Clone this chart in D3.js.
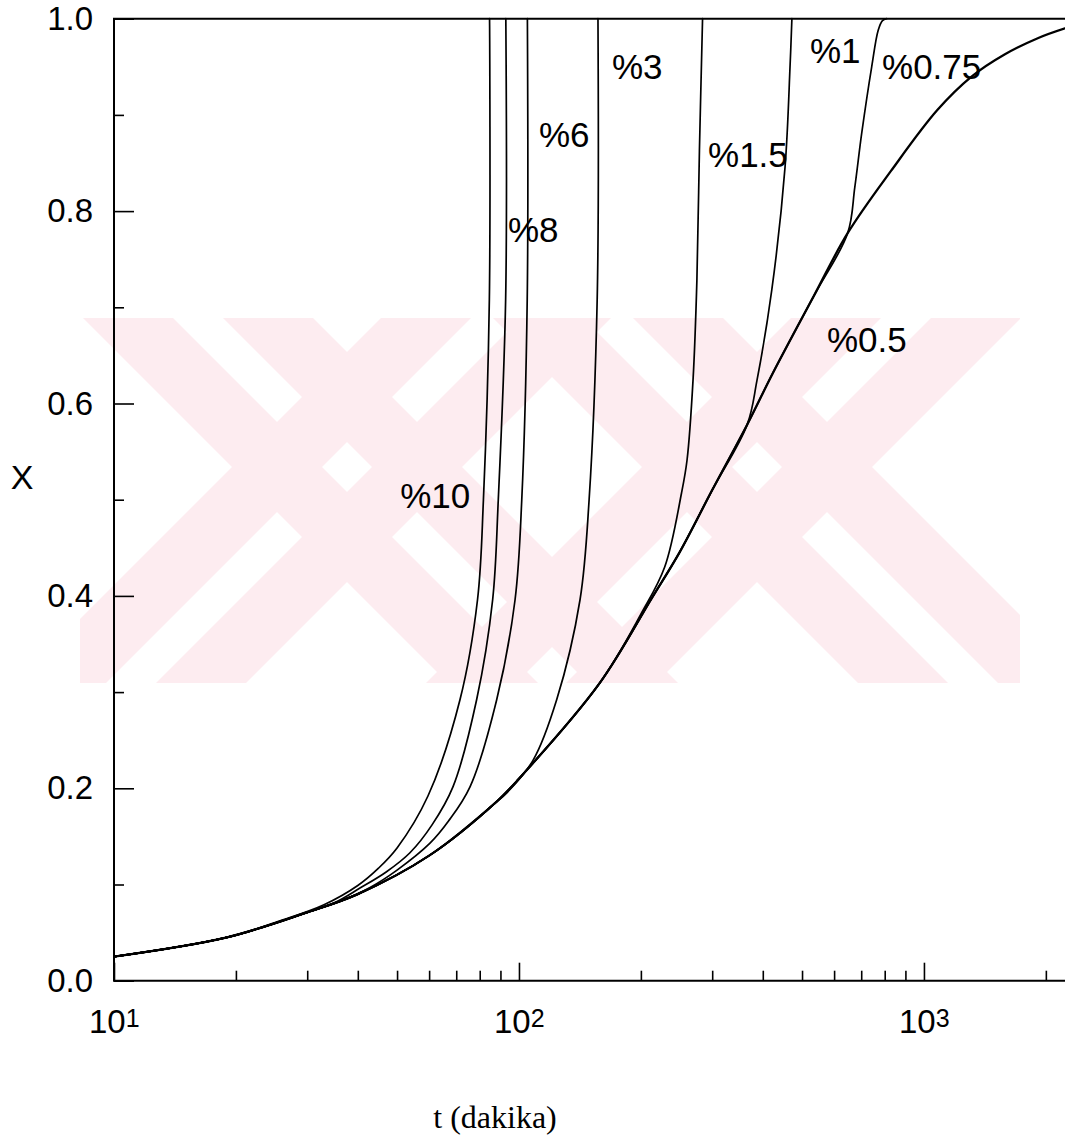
<!DOCTYPE html>
<html>
<head>
<meta charset="utf-8">
<script src="https://cdn.jsdelivr.net/npm/d3@7"></script>
<style>
  body { margin: 0; background: #fff; }
  svg { display: block; }
</style>
</head>
<body>
<svg id="chart" width="1065" height="1142"></svg>
<script>
// ---- axis ticks ----
const xMajorTicks = [10, 100, 1000];
const xMajorExponents = ["1", "2", "3"];
const xMinorTicks = [20, 30, 40, 50, 60, 70, 80, 90, 200, 300, 400, 500, 600, 700, 800, 900, 2000];
const yMajorTicks = [0, 0.2, 0.4, 0.6, 0.8, 1.0];
const yTickLabels = ["0.0", "0.2", "0.4", "0.6", "0.8", "1.0"];
const yMinorTicks = [0.1, 0.3, 0.5, 0.7, 0.9];

// ---- %0.5 curve (all other curves start out along it) ----
const t05 = [10, 19, 30, 40, 60, 88, 100, 158, 213, 249, 300, 366, 424, 535, 648, 830, 1079, 1313, 1585, 1916, 2230];
const x05 = [0.025, 0.045, 0.071, 0.09, 0.13, 0.186, 0.21, 0.309, 0.398, 0.445, 0.51, 0.578, 0.632, 0.712, 0.777, 0.842, 0.905, 0.94, 0.963, 0.98, 0.99];

// ---- branches that leave the %0.5 curve and run up to X = 1 ----
const t10 = [26, 33, 40, 45, 50, 59.6, 71.5, 79, 81.7, 84.5, 84.6];
const x10 = [0.063, 0.079, 0.099, 0.117, 0.138, 0.192, 0.292, 0.396, 0.5, 0.708, 1.0];

const t8 = [29, 35, 40.4, 47, 53.8, 61, 68.7, 78.6, 86.1, 88.9, 92.7, 92.8];
const x8 = [0.069, 0.081, 0.096, 0.113, 0.133, 0.162, 0.2015, 0.292, 0.396, 0.5, 0.708, 1.0];

const t6 = [36, 42.9, 50, 60.3, 67, 75.7, 88.1, 97.8, 101.6, 104.8, 104.9];
const x6 = [0.0824, 0.097, 0.115, 0.143, 0.166, 0.2015, 0.292, 0.396, 0.5, 0.708, 1.0];

const t3 = [88, 93.2, 108.3, 123.9, 141.5, 149, 156, 156.7];
const x3 = [0.186, 0.195, 0.229, 0.292, 0.396, 0.5, 0.708, 1.0];

const t15 = [200, 229, 252, 260, 269, 275, 279, 284];
const x15 = [0.381, 0.43, 0.507, 0.541, 0.624, 0.728, 0.863, 1.0];

const t1 = [366, 387, 421, 454, 467, 472];
const x1 = [0.578, 0.624, 0.718, 0.846, 0.95, 1.0];

const t075 = [648, 675, 702, 743, 771, 790, 809];
const x075 = [0.777, 0.825, 0.881, 0.95, 0.988, 0.998, 1.0];

// ---- curve labels, anchored in data coordinates (left end, baseline) ----
const labelTexts = ["%10", "%8", "%6", "%3", "%1.5", "%1", "%0.75", "%0.5"];
const labelT = [50.9, 93.9, 112, 169.7, 293, 523, 788, 576];
const labelX = [0.491, 0.768, 0.867, 0.9375, 0.846, 0.954, 0.9375, 0.6535];

// ---- layout ----
const W = 1065, H = 1142;
const plotL = 114, plotR = 1065, plotT = 18.7, plotB = 980.7;
const SANS = "'Liberation Sans', Arial, sans-serif";
const SERIF = "'Liberation Serif', 'Times New Roman', serif";

const svg = d3.select("#chart");
svg.append("rect").attr("width", W).attr("height", H).attr("fill", "#fff");

const x = d3.scaleLog().domain([10, 2230]).range([plotL, plotR]);
const y = d3.scaleLinear().domain([0, 1]).range([plotB, plotT]);

// faint emblem behind the plot: two crosses, each arm a pair of stripes
const defs = svg.append("defs");
defs.append("clipPath").attr("id", "emblemClip")
  .append("rect").attr("x", 80).attr("y", 318).attr("width", 940).attr("height", 365);
defs.append("clipPath").attr("id", "plotClip")
  .append("rect").attr("x", plotL).attr("y", plotT - 2).attr("width", plotR - plotL + 2).attr("height", plotB - plotT + 4);

const emblem = svg.append("g").attr("clip-path", "url(#emblemClip)").attr("fill", "#fdecf0");
const ey0 = 318, ey1 = 683;
const stripes = [[-115, -25], [25, 115]];
function armPolygon(cx, cy, dir, o1, o2) {
  const xa = cx + dir * (ey0 - cy), xb = cx + dir * (ey1 - cy);
  return [[xa + o1, ey0], [xa + o2, ey0], [xb + o2, ey1], [xb + o1, ey1]];
}
[[347, 467], [757, 467]].forEach(([cx, cy]) => {
  [1, -1].forEach(dir => {
    stripes.forEach(([o1, o2]) => {
      emblem.append("polygon").attr("points", armPolygon(cx, cy, dir, o1, o2).map(p => p.join(",")).join(" "));
    });
  });
});

// ---- ticks (pointing into the plot) ----
function styleAxis(g) {
  g.select(".domain").remove();
  g.selectAll(".tick line").attr("stroke", "#000").attr("stroke-width", 1.6);
}

svg.append("g").attr("transform", `translate(${plotL},0)`)
  .call(d3.axisLeft(y).tickValues(yMajorTicks).tickSize(-20).tickSizeOuter(0).tickPadding(21)
    .tickFormat((d, i) => yTickLabels[i]))
  .call(styleAxis)
  .call(g => g.selectAll(".tick text").style("font-size", "33px").style("font-family", SANS).attr("fill", "#000"));

svg.append("g").attr("transform", `translate(${plotL},0)`)
  .call(d3.axisLeft(y).tickValues(yMinorTicks).tickSize(-10).tickSizeOuter(0).tickFormat(""))
  .call(styleAxis);

svg.append("g").attr("transform", `translate(0,${plotB})`)
  .call(d3.axisBottom(x).tickValues(xMajorTicks).tickSize(-18).tickSizeOuter(0).tickFormat(""))
  .call(styleAxis);

svg.append("g").attr("transform", `translate(0,${plotB})`)
  .call(d3.axisBottom(x).tickValues(xMinorTicks).tickSize(-10).tickSizeOuter(0).tickFormat(""))
  .call(styleAxis);

// decade labels 10^n
xMajorTicks.forEach((v, i) => {
  const t = svg.append("text").attr("x", x(v) - 25).attr("y", 1033)
    .style("font-family", SANS).style("font-size", "33px").attr("fill", "#000");
  t.append("tspan").text("10");
  t.append("tspan").style("font-size", "25px").attr("dy", -6).text(xMajorExponents[i]);
});

// ---- frame ----
const frame = svg.append("g").attr("stroke", "#000").attr("stroke-width", 2).attr("fill", "none");
frame.append("line").attr("x1", plotL).attr("x2", plotL).attr("y1", plotT).attr("y2", plotB);
frame.append("line").attr("x1", plotL - 1).attr("x2", plotR).attr("y1", plotT).attr("y2", plotT);
frame.append("line").attr("x1", plotL - 1).attr("x2", plotR).attr("y1", plotB).attr("y2", plotB);

// ---- curves ----
const line = d3.line().x(d => x(d[0])).y(d => y(d[1])).curve(d3.curveCatmullRom.alpha(0.5));
const zip = (ts, xs) => ts.map((t, i) => [t, xs[i]]);
const base = zip(t05, x05);
function branch(ts, xs) {
  const start = ts[0];
  return base.filter(d => d[0] < start).concat(zip(ts, xs));
}

const curves = svg.append("g").attr("clip-path", "url(#plotClip)").attr("fill", "none").attr("stroke", "#000")
  .attr("stroke-linejoin", "round").attr("stroke-linecap", "round");

[[t10, x10], [t8, x8], [t6, x6], [t3, x3], [t15, x15], [t1, x1], [t075, x075]].forEach(([ts, xs]) => {
  curves.append("path").attr("d", line(branch(ts, xs))).attr("stroke-width", 1.7);
});
curves.append("path").attr("d", line(base)).attr("stroke-width", 2.3);

// ---- curve labels ----
labelTexts.forEach((s, i) => {
  svg.append("text").attr("x", x(labelT[i])).attr("y", y(labelX[i]))
    .style("font-family", SANS).style("font-size", "35px").attr("fill", "#000").text(s);
});

// ---- axis titles ----
svg.append("text").attr("x", 22).attr("y", 489).attr("text-anchor", "middle")
  .style("font-family", SANS).style("font-size", "34px").attr("fill", "#000").text("X");
svg.append("text").attr("x", 495).attr("y", 1128).attr("text-anchor", "middle")
  .style("font-family", SERIF).style("font-size", "32px").attr("fill", "#000")
  .text("t (dakika)");
</script>
</body>
</html>
